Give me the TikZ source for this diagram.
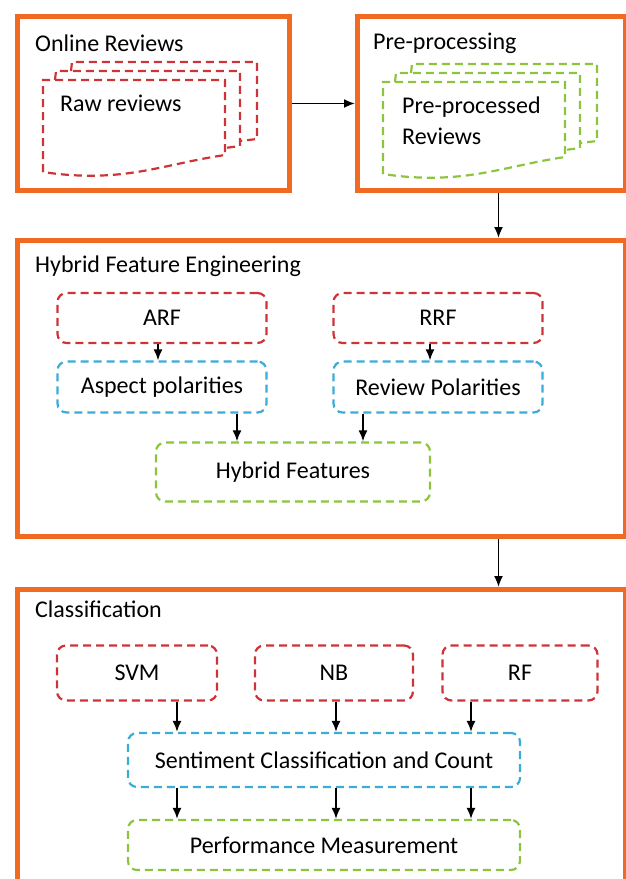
\documentclass[tikz,border=0pt]{standalone}
\usepackage{fontspec}
\setmainfont{Carlito}
\usepackage{tikz}
\definecolor{frameorange}{RGB}{240,106,34}
\definecolor{dashred}{RGB}{204,52,56}
\definecolor{dashblue}{RGB}{58,172,218}
\definecolor{dashgreen}{RGB}{140,196,62}
\usetikzlibrary{arrows.meta,positioning,calc}

\begin{document}
\begin{tikzpicture}[
    x=1pt, y=-1pt,
    font=\fontsize{24}{31}\selectfont,
    frame/.style={rectangle, draw=frameorange, line width=5pt, anchor=north west, inner sep=0pt},
    title/.style={anchor=west, inner sep=0pt},
    dashbox/.style={rectangle, rounded corners=9pt, line width=2.2pt, dash pattern=on 8pt off 5pt, inner sep=0pt},
    redbox/.style={dashbox, draw=dashred},
    bluebox/.style={dashbox, draw=dashblue},
    greenbox/.style={dashbox, draw=dashgreen},
    page/.style={line width=2.2pt, dash pattern=on 8pt off 5pt},
    arr/.style={-{Latex[length=11pt,width=9pt]}, line width=1.8pt, black}
]
    \useasboundingbox (0,0) rectangle (626,879);
    \clip (0,0) rectangle (626,879);

    % Frames
    \node[frame, minimum width=272pt, minimum height=174pt] (online) at (15,14) {};
    \node[frame, minimum width=268pt, minimum height=174pt] (prep) at (355,14) {};
    \node[frame, minimum width=608pt, minimum height=296pt] (hfe) at (15,238) {};
    \node[frame, minimum width=608pt, minimum height=320pt] (cls) at (15,587) {};

    \node[title] (onlinet) at (35,43) {Online Reviews};
    \node[title] (prept) at (373,43) {Pre-processing};
    \node[title] (hfet) at (35,266) {Hybrid Feature Engineering};
    \node[title] (clst) at (35,609) {Classification};

    % Document stacks
    \foreach \ox/\oy/\col in {43/80/dashred, 383/82/dashgreen} {
        \begin{scope}[shift={(\ox,\oy)}]
            \draw[page, \col] (0,92) -- (0,0) -- (182,0) -- (182,75)
                .. controls (120,84) and (80,104) .. (0,92);
            \draw[page, \col] (12,0) -- (13,-9) -- (197,-9) -- (197,66) -- (182,68);
            \draw[page, \col] (28,-9) -- (29,-18) -- (214,-18) -- (214,59) -- (197,61);
        \end{scope}
    }
    \node[title] (raw) at (60,103) {Raw reviews};
    \node[title, align=left] (prepd) at (402,121) {Pre-processed\\Reviews};

    % Hybrid feature engineering
    \node[redbox, minimum width=209pt, minimum height=50pt] (arf) at (162,318) {ARF};
    \node[redbox, minimum width=209pt, minimum height=50pt] (rrf) at (438,318) {RRF};
    \node[bluebox, minimum width=209pt, minimum height=51pt] (asp) at (162,387) {Aspect polarities};
    \node[bluebox, minimum width=209pt, minimum height=51pt] (rev) at (438,387) {Review Polarities};
    \node[greenbox, minimum width=274pt, minimum height=59pt] (hyb) at (293,472) {Hybrid Features};

    % Classification
    \node[redbox, minimum width=160pt, minimum height=55pt] (svm) at (137,673) {SVM};
    \node[redbox, minimum width=158pt, minimum height=55pt] (nb) at (334,673) {NB};
    \node[redbox, minimum width=155pt, minimum height=55pt] (rf) at (520,673) {RF};
    \node[bluebox, minimum width=392pt, minimum height=54pt] (sent) at (324,760) {Sentiment Classification and Count};
    \node[greenbox, minimum width=392pt, minimum height=50pt] (perf) at (324,845) {Performance Measurement};

    % Arrows between frames
    \draw[arr] (online.east) -- (online.east -| prep.west);
    \draw[arr] ([xshift=7pt]prep.south) -- ([xshift=7pt]prep.south |- hfe.north);
    \draw[arr] ([xshift=7pt]hfe.south -| prep.south) -- ([xshift=7pt]prep.south |- cls.north);

    % Arrows inside
    \draw[arr] ([xshift=-4pt]arf.south) -- ([xshift=-4pt]arf.south |- asp.north);
    \draw[arr] ([xshift=-8pt]rrf.south) -- ([xshift=-8pt]rrf.south |- rev.north);
    \draw[arr] ([xshift=75pt]asp.south) -- ([xshift=75pt]asp.south |- hyb.north);
    \draw[arr] ([xshift=-75pt]rev.south) -- ([xshift=-75pt]rev.south |- hyb.north);

    \foreach \src/\dx in {svm/40, nb/2, rf/-49} {
        \draw[arr] ([xshift=\dx pt]\src.south) -- ([xshift=\dx pt]\src.south |- sent.north);
        \draw[arr] ([xshift=\dx pt]\src.south |- sent.south) -- ([xshift=\dx pt]\src.south |- perf.north);
    }
\end{tikzpicture}
\end{document}
